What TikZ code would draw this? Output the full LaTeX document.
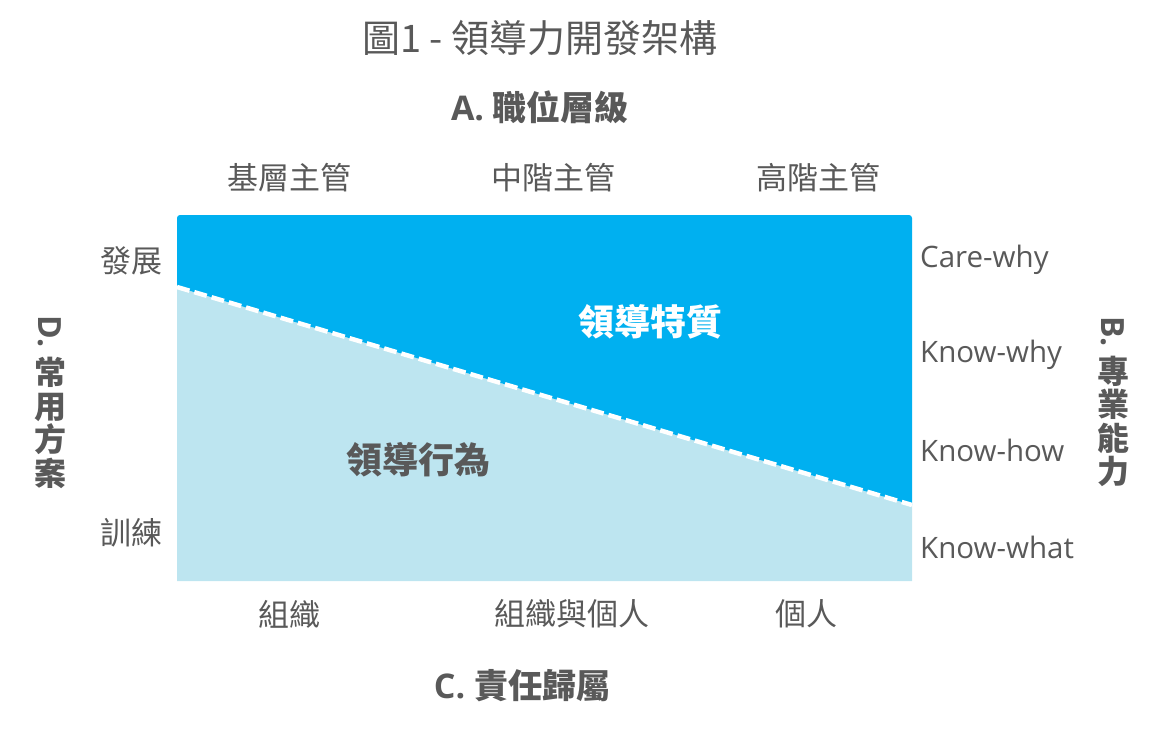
\documentclass[tikz,border=0pt]{standalone}
\usepackage{fontspec}
\setmainfont{Open Sans}
\newfontfamily\cjk{Noto Sans CJK TC}
\usepackage{graphicx}

\definecolor{txtgray}{HTML}{595959}
\definecolor{darkblue}{HTML}{00B0F0}
\definecolor{lightblue}{HTML}{BDE5F0}

\tikzset{
  label/.style={text=txtgray,inner sep=0pt,font=\cjk\fontsize{31}{33}\selectfont},
  axislabel/.style={text=txtgray,inner sep=0pt,font=\bfseries\fontsize{34}{36}\selectfont},
  level/.style={text=txtgray,inner sep=0pt,anchor=west,font=\fontsize{29.5}{31}\selectfont},
  vlabel/.style={text=txtgray,inner sep=0pt,align=center,font=\cjk\bfseries\fontsize{32}{33.5}\selectfont}
}

\begin{document}
\begin{tikzpicture}[x=1pt,y=-1pt]
  \useasboundingbox (0,0) rectangle (1150,734);

  %layout
  \coordinate (tl) at (177,215);
  \coordinate (tr) at (912,215);
  \coordinate (bl) at (177,581);
  \coordinate (br) at (912,581);
  \coordinate (sl) at (177,287);
  \coordinate (sr) at (912,505);

  \fill[lightblue] (sl) -- (bl) -- (br) -- (sr) -- cycle;
  \fill[darkblue] (sl) [rounded corners=3pt] -- (tl) -- (tr) [sharp corners] -- (sr) -- cycle;

  %boundary
  \draw[white,line width=4.5pt,dash pattern=on 13pt off 5pt] (sl) -- (sr);

  %title
  \node[text=txtgray,inner sep=0pt,font=\cjk\fontsize{38}{40}\selectfont] (title) at (540,38) {圖1 - 領導力開發架構};

  %axis A
  \node[axislabel] (axisA) at (540,107) {A. {\cjk 職位層級}};
  \node[label] (junior) at (289,178) {基層主管};
  \node[label] (middle) at (553,178) {中階主管};
  \node[label] (senior) at (818,178) {高階主管};

  %axis B
  \node[level] (carewhy) at (920,260) {Care-why};
  \node[level] (knowwhy) at (920,355) {Know-why};
  \node[level] (knowhow) at (920,450) {Know-how};
  \node[level] (knowwhat) at (920,547) {Know-what};
  \node[vlabel] (axisB) at (1113,402) {\rotatebox{-90}{\fontspec{Open Sans}\bfseries B.}\\[9pt]專\\業\\能\\力};

  %axis C
  \node[label] (org) at (289,614) {組織};
  \node[label] (orgind) at (572,614) {組織與個人};
  \node[label] (ind) at (806,614) {個人};
  \node[axislabel] (axisC) at (522,686) {C. {\cjk 責任歸屬}};

  %axis D
  \node[label] (develop) at (131,261) {發展};
  \node[label] (train) at (131,533) {訓練};
  \node[vlabel] (axisD) at (50,402) {\rotatebox{-90}{\fontspec{Open Sans}\bfseries D.}\\[9pt]常\\用\\方\\案};

  %areas
  \node[inner sep=0pt,text=white,font=\cjk\bfseries\fontsize{36}{38}\selectfont] (traits) at (650,322) {領導特質};
  \node[inner sep=0pt,text=txtgray,font=\cjk\bfseries\fontsize{36}{38}\selectfont] (behavior) at (418,460) {領導行為};

\end{tikzpicture}
\end{document}
